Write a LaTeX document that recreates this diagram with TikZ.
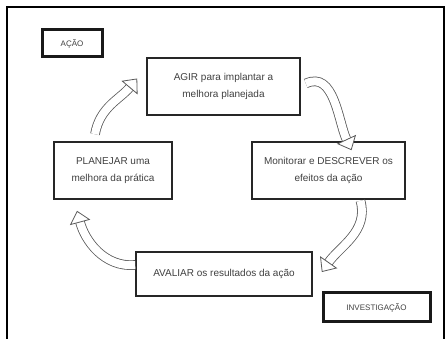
\documentclass[tikz,border=0pt]{standalone}
\usepackage{fontspec}
\setmainfont{Liberation Sans}
\usetikzlibrary{arrows.meta}

\begin{document}
\begin{tikzpicture}[x=1pt, y=1pt,
  every box/.style={draw=black!85, line width=1.6pt, fill=white, align=center,
    text=black!75, font=\fontsize{10}{17}\selectfont, inner sep=0pt},
  tag box/.style={draw=black!90, line width=3pt, fill=white, text=black!75,
    font=\fontsize{8}{9}\selectfont, inner sep=0pt},
  cycle arrow/.style={draw=black!65, line width=0.8pt, double=white, double distance=8pt,
    -{Triangle[open, fill=white, length=12pt, width=21pt, line width=0.8pt]}}]

\useasboundingbox (0,0) rectangle (447,339);

% frame
\draw[line width=1.2pt] (7,0) -- (7,332) -- (444,332) -- (444,0);

% labels
\node [tag box, minimum width=60pt, minimum height=27pt] (acao) at (72,295.5) {AÇÃO};
\node [tag box, minimum width=107pt, minimum height=29pt] (invest) at (376.5,31.5) {INVESTIGAÇÃO};

% cycle
\node [every box, minimum width=153pt, minimum height=57pt] (agir) at (223.5,252.5)
  {AGIR para implantar a\\melhora planejada};
\node [every box, minimum width=153pt, minimum height=57pt] (monitorar) at (328.5,168.5)
  {Monitorar e DESCREVER os\\efeitos da ação};
\node [every box, minimum width=176pt, minimum height=44pt] (avaliar) at (224,65)
  {AVALIAR os resultados da ação};
\node [every box, minimum width=118pt, minimum height=57pt] (planejar) at (113,168.5)
  {PLANEJAR uma\\melhora da prática};

\coordinate (t1) at ([xshift=-18pt,yshift=7pt]planejar.north);
\coordinate (h1) at ([xshift=-9pt,yshift=8pt]agir.west);
\coordinate (t2) at ([xshift=5pt,yshift=3pt]agir.east);
\coordinate (h2) at ([xshift=23pt,yshift=-9pt]monitorar.north);
\coordinate (t3) at ([xshift=32pt,yshift=-1pt]monitorar.south);
\coordinate (h3) at ([xshift=9pt,yshift=2pt]avaliar.east);
\coordinate (t4) at ([xshift=0pt,yshift=9pt]avaliar.west);
\coordinate (h4) at ([xshift=-36pt,yshift=-11pt]planejar.south);

\foreach \i/\o/\n in {1/80/230, 2/25/115, 3/-75/55, 4/185/-75}
  \draw [cycle arrow] (t\i) to[out=\o, in=\n] (h\i);

\end{tikzpicture}
\end{document}
